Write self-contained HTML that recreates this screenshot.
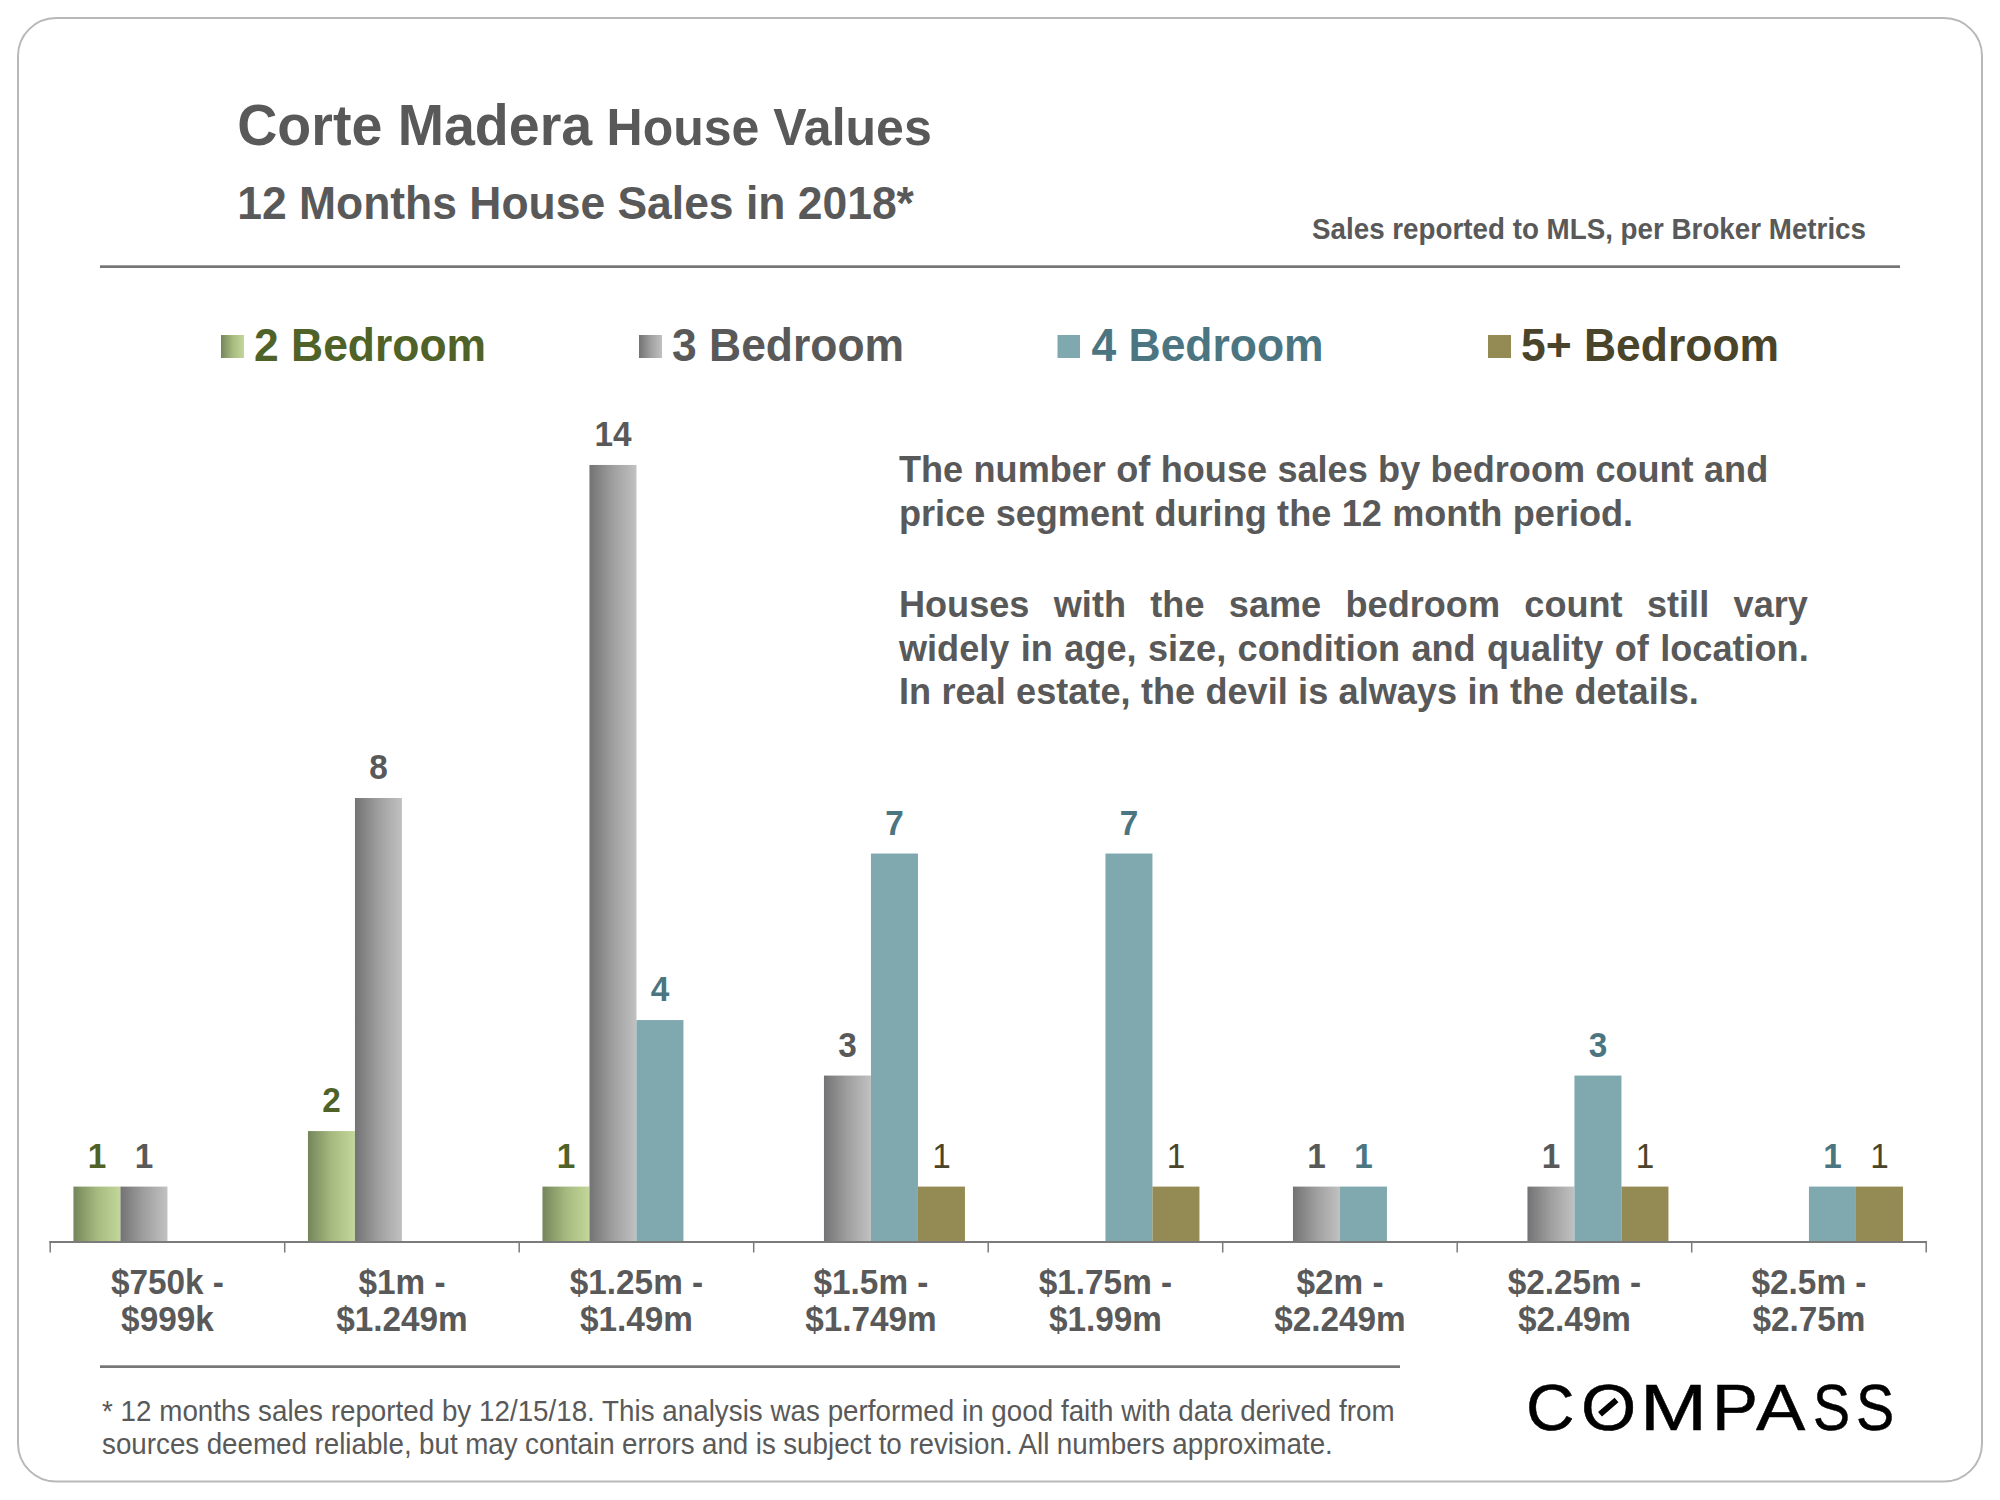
<!DOCTYPE html>
<html lang="en"><head><meta charset="utf-8"><title>Corte Madera House Values</title>
<style>
html,body{margin:0;padding:0;background:#fff;}
body{width:2000px;height:1500px;overflow:hidden;position:relative;font-family:"Liberation Sans", Arial, Helvetica, sans-serif;}
svg{position:absolute;left:0;top:0;display:block;}
text{font-family:"Liberation Sans", Arial, Helvetica, sans-serif;font-weight:bold;fill:#595959;}
.g2{fill:#4f6228;}.g3{fill:#595959;}.g4{fill:#4b7581;}.g5{fill:#4a452a;}
.dl{font-size:33.33px;text-anchor:middle;}
.ax{font-size:33.33px;text-anchor:middle;}
.lg{font-size:44.44px;}
.note{font-size:36.11px;}
.foot{font-size:27.78px;font-weight:normal;}
.logo{position:absolute;left:0;top:0;margin:0;font-family:"Liberation Sans", Arial, Helvetica, sans-serif;font-weight:normal;font-size:65.7px;line-height:1;color:#000;-webkit-text-stroke:0.5px #000;}
.logo span{position:absolute;top:1374.7px;display:block;transform-origin:0 0;}
</style></head><body>
<svg width="2000" height="1500" viewBox="0 0 2000 1500">
<defs>
<linearGradient id="gr2" x1="0" y1="0" x2="1" y2="0"><stop offset="0" stop-color="#74865a"/><stop offset="0.5" stop-color="#a6b97f"/><stop offset="1" stop-color="#c3d79a"/></linearGradient>
<linearGradient id="gr3" x1="0" y1="0" x2="1" y2="0"><stop offset="0" stop-color="#737375"/><stop offset="0.5" stop-color="#9f9f9f"/><stop offset="1" stop-color="#c1c1c1"/></linearGradient>
</defs>
<rect x="18" y="18" width="1964" height="1463.5" rx="38" ry="38" fill="#fff" stroke="#b8b8b8" stroke-width="2"/>
<text font-size="55.56" transform="translate(237.25 145) scale(1 1.03)">Corte Madera <tspan font-size="50" dx="-1">House Values</tspan></text>
<text font-size="44.44" transform="translate(237.2 218.7) scale(1 1.03)">12 Months House Sales in 2018*</text>
<text font-size="27.78" text-anchor="end" transform="translate(1866 239) scale(1 1.03)">Sales reported to MLS, per Broker Metrics</text>
<rect x="100" y="265.3" width="1800" height="2.7" fill="#767676"/>
<rect x="221" y="335" width="23" height="23" fill="url(#gr2)"/>
<text class="lg g2" transform="translate(254 360.5) scale(1 1.03)">2 Bedroom</text>
<rect x="639" y="335" width="23" height="23" fill="url(#gr3)"/>
<text class="lg g3" transform="translate(672 360.5) scale(1 1.03)">3 Bedroom</text>
<rect x="1057.5" y="335" width="22.5" height="23" fill="#7fa9af"/>
<text class="lg g4" transform="translate(1091.5 360.5) scale(1 1.03)">4 Bedroom</text>
<rect x="1488" y="335" width="23" height="23" fill="#948a54"/>
<text class="lg g5" transform="translate(1521 360.5) scale(1 1.03)">5+ Bedroom</text>
<rect x="73.45" y="1186.59" width="47.00" height="55.51" fill="url(#gr2)"/>
<text class="dl g2" transform="translate(96.95 1167.69) scale(1 1.03)">1</text>
<rect x="120.45" y="1186.59" width="47.00" height="55.51" fill="url(#gr3)"/>
<text class="dl g3" transform="translate(143.95 1167.69) scale(1 1.03)">1</text>
<text class="ax" transform="translate(167.45 1293.5) scale(1 1.03)">$750k -</text>
<text class="ax" transform="translate(167.45 1331) scale(1 1.03)">$999k</text>
<rect x="307.95" y="1131.08" width="47.00" height="111.02" fill="url(#gr2)"/>
<text class="dl g2" transform="translate(331.45 1112.18) scale(1 1.03)">2</text>
<rect x="354.95" y="798.02" width="47.00" height="444.08" fill="url(#gr3)"/>
<text class="dl g3" transform="translate(378.45 779.12) scale(1 1.03)">8</text>
<text class="ax" transform="translate(401.95 1293.5) scale(1 1.03)">$1m -</text>
<text class="ax" transform="translate(401.95 1331) scale(1 1.03)">$1.249m</text>
<rect x="542.45" y="1186.59" width="47.00" height="55.51" fill="url(#gr2)"/>
<text class="dl g2" transform="translate(565.95 1167.69) scale(1 1.03)">1</text>
<rect x="589.45" y="464.96" width="47.00" height="777.14" fill="url(#gr3)"/>
<text class="dl g3" transform="translate(612.95 446.06) scale(1 1.03)">14</text>
<rect x="636.45" y="1020.06" width="47.00" height="222.04" fill="#7fa9af"/>
<text class="dl g4" transform="translate(659.95 1001.16) scale(1 1.03)">4</text>
<text class="ax" transform="translate(636.45 1293.5) scale(1 1.03)">$1.25m -</text>
<text class="ax" transform="translate(636.45 1331) scale(1 1.03)">$1.49m</text>
<rect x="823.95" y="1075.57" width="47.00" height="166.53" fill="url(#gr3)"/>
<text class="dl g3" transform="translate(847.45 1056.67) scale(1 1.03)">3</text>
<rect x="870.95" y="853.53" width="47.00" height="388.57" fill="#7fa9af"/>
<text class="dl g4" transform="translate(894.45 834.63) scale(1 1.03)">7</text>
<rect x="917.95" y="1186.59" width="47.00" height="55.51" fill="#948a54"/>
<text class="dl g5" style="font-weight:normal" transform="translate(941.45 1167.69) scale(1 1.03)">1</text>
<text class="ax" transform="translate(870.95 1293.5) scale(1 1.03)">$1.5m -</text>
<text class="ax" transform="translate(870.95 1331) scale(1 1.03)">$1.749m</text>
<rect x="1105.45" y="853.53" width="47.00" height="388.57" fill="#7fa9af"/>
<text class="dl g4" transform="translate(1128.95 834.63) scale(1 1.03)">7</text>
<rect x="1152.45" y="1186.59" width="47.00" height="55.51" fill="#948a54"/>
<text class="dl g5" style="font-weight:normal" transform="translate(1175.95 1167.69) scale(1 1.03)">1</text>
<text class="ax" transform="translate(1105.45 1293.5) scale(1 1.03)">$1.75m -</text>
<text class="ax" transform="translate(1105.45 1331) scale(1 1.03)">$1.99m</text>
<rect x="1292.95" y="1186.59" width="47.00" height="55.51" fill="url(#gr3)"/>
<text class="dl g3" transform="translate(1316.45 1167.69) scale(1 1.03)">1</text>
<rect x="1339.95" y="1186.59" width="47.00" height="55.51" fill="#7fa9af"/>
<text class="dl g4" transform="translate(1363.45 1167.69) scale(1 1.03)">1</text>
<text class="ax" transform="translate(1339.95 1293.5) scale(1 1.03)">$2m -</text>
<text class="ax" transform="translate(1339.95 1331) scale(1 1.03)">$2.249m</text>
<rect x="1527.45" y="1186.59" width="47.00" height="55.51" fill="url(#gr3)"/>
<text class="dl g3" transform="translate(1550.95 1167.69) scale(1 1.03)">1</text>
<rect x="1574.45" y="1075.57" width="47.00" height="166.53" fill="#7fa9af"/>
<text class="dl g4" transform="translate(1597.95 1056.67) scale(1 1.03)">3</text>
<rect x="1621.45" y="1186.59" width="47.00" height="55.51" fill="#948a54"/>
<text class="dl g5" style="font-weight:normal" transform="translate(1644.95 1167.69) scale(1 1.03)">1</text>
<text class="ax" transform="translate(1574.45 1293.5) scale(1 1.03)">$2.25m -</text>
<text class="ax" transform="translate(1574.45 1331) scale(1 1.03)">$2.49m</text>
<rect x="1808.95" y="1186.59" width="47.00" height="55.51" fill="#7fa9af"/>
<text class="dl g4" transform="translate(1832.45 1167.69) scale(1 1.03)">1</text>
<rect x="1855.95" y="1186.59" width="47.00" height="55.51" fill="#948a54"/>
<text class="dl g5" style="font-weight:normal" transform="translate(1879.45 1167.69) scale(1 1.03)">1</text>
<text class="ax" transform="translate(1808.95 1293.5) scale(1 1.03)">$2.5m -</text>
<text class="ax" transform="translate(1808.95 1331) scale(1 1.03)">$2.75m</text>
<rect x="49.45" y="1241" width="1877.50" height="2" fill="#7b7b7b"/>
<rect x="49.45" y="1241" width="1.5" height="11.5" fill="#7b7b7b"/>
<rect x="283.95" y="1241" width="1.5" height="11.5" fill="#7b7b7b"/>
<rect x="518.45" y="1241" width="1.5" height="11.5" fill="#7b7b7b"/>
<rect x="752.95" y="1241" width="1.5" height="11.5" fill="#7b7b7b"/>
<rect x="987.45" y="1241" width="1.5" height="11.5" fill="#7b7b7b"/>
<rect x="1221.95" y="1241" width="1.5" height="11.5" fill="#7b7b7b"/>
<rect x="1456.45" y="1241" width="1.5" height="11.5" fill="#7b7b7b"/>
<rect x="1690.95" y="1241" width="1.5" height="11.5" fill="#7b7b7b"/>
<rect x="1925.45" y="1241" width="1.5" height="11.5" fill="#7b7b7b"/>
<text class="note" word-spacing="0.35" transform="translate(899 482) scale(1 1.03)">The number of house sales by bedroom count and</text>
<text class="note" word-spacing="0.35" transform="translate(899 525.7) scale(1 1.03)">price segment during the 12 month period.</text>
<text class="note" word-spacing="14.36" transform="translate(899 617) scale(1 1.03)">Houses with the same bedroom count still vary</text>
<text class="note" word-spacing="1.4" transform="translate(899 660.5) scale(1 1.03)">widely in age, size, condition and quality of location.</text>
<text class="note" word-spacing="0.38" transform="translate(899 704) scale(1 1.03)">In real estate, the devil is always in the details.</text>
<rect x="100" y="1365.3" width="1300" height="2.7" fill="#767676"/>
<text class="foot" word-spacing="0.07" transform="translate(102 1420.7) scale(1 1.03)">* 12 months sales reported by 12/15/18. This analysis was performed in good faith with data derived from</text>
<text class="foot" word-spacing="-0.28" transform="translate(102 1454) scale(1 1.03)">sources deemed reliable, but may contain errors and is subject to revision. All numbers approximate.</text>
<line x1="1600" y1="1414.2" x2="1616.5" y2="1400" stroke="#000" stroke-width="6" stroke-linecap="butt"/>
</svg>
<div class="logo"><span style="left:1526.1px;transform:scaleX(1.022)">C</span><span style="left:1580.6px;transform:scaleX(1.081)">O</span><span style="left:1639.6px;transform:scaleX(1.224)">M</span><span style="left:1711.8px;transform:scaleX(1.05)">P</span><span style="left:1756.4px;transform:scaleX(1.125)">A</span><span style="left:1812.5px;transform:scaleX(0.846)">S</span><span style="left:1856.4px;transform:scaleX(0.873)">S</span></div>
</body></html>
